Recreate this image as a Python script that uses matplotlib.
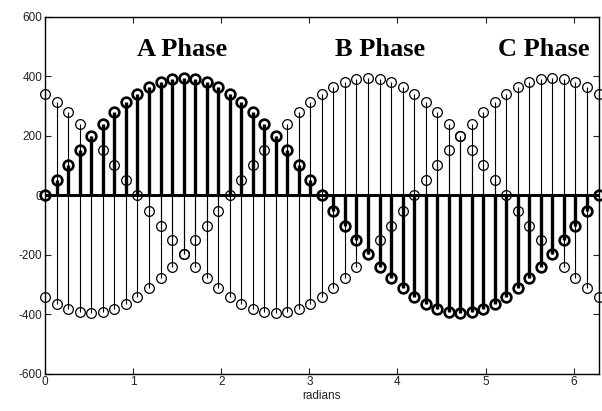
import numpy as np
import matplotlib
matplotlib.use("Agg")
from matplotlib import pyplot as plt

plt.rcParams['axes.unicode_minus'] = False

# sample angles (radians), 49 samples over one period
radians = [0.000, 0.131, 0.262, 0.393, 0.524, 0.654, 0.785, 0.916, 1.047, 1.178,
           1.309, 1.440, 1.571, 1.702, 1.833, 1.963, 2.094, 2.225, 2.356, 2.487,
           2.618, 2.749, 2.880, 3.011, 3.142, 3.272, 3.403, 3.534, 3.665, 3.796,
           3.927, 4.058, 4.189, 4.320, 4.451, 4.581, 4.712, 4.843, 4.974, 5.105,
           5.236, 5.367, 5.498, 5.629, 5.760, 5.890, 6.021, 6.152, 6.283]

phase_a = [0, 52, 102, 151, 198, 240, 279, 313, 342, 365, 382, 392, 395, 392,
           382, 365, 342, 313, 279, 240, 198, 151, 102, 52, 0, -52, -102, -151,
           -198, -240, -279, -313, -342, -365, -382, -392, -395, -392, -382,
           -365, -342, -313, -279, -240, -198, -151, -102, -52, 0]

phase_b = [-342, -365, -382, -392, -395, -392, -382, -365, -342, -313, -279,
           -240, -198, -151, -102, -52, 0, 52, 102, 151, 198, 240, 279, 313,
           342, 365, 382, 392, 395, 392, 382, 365, 342, 313, 279, 240, 198,
           151, 102, 52, 0, -52, -102, -151, -198, -240, -279, -313, -342]

phase_c = [342, 313, 279, 240, 198, 151, 102, 52, 0, -52, -102, -151, -198,
           -240, -279, -313, -342, -365, -382, -392, -395, -392, -382, -365,
           -342, -313, -279, -240, -198, -151, -102, -52, 0, 52, 102, 151, 198,
           240, 279, 313, 342, 365, 382, 392, 395, 392, 382, 365, 342]

labels = ["A Phase", "B Phase", "C Phase"]
label_x = [1.55, 3.80, 5.66]
label_y = 468

fig = plt.figure(figsize=(6.02, 4.11), dpi=100)
ax = fig.add_axes([0.0752, 0.0908, 0.919, 0.868])


def draw_stems(y, lw, mew):
    markerline, stemlines, baseline = ax.stem(radians, y, linefmt='k-',
                                              markerfmt='ko', basefmt='k-')
    stemlines.set_linewidth(lw)
    plt.setp(markerline, markerfacecolor='none', markeredgecolor='k',
             markersize=7, markeredgewidth=mew, clip_on=False)
    baseline.set_linewidth(1.8)
    return markerline


draw_stems(phase_b, 0.8, 0.9)
draw_stems(phase_c, 0.8, 0.9)
draw_stems(phase_a, 2.4, 1.9)

for txt, lx in zip(labels, label_x):
    ax.text(lx, label_y, txt, ha='center', va='baseline',
            family='Liberation Serif', weight='bold', fontsize=19)

ax.set_xlim(0, radians[-1])
ax.set_ylim(-600, 600)
ax.set_xticks(range(0, 7))
ax.set_yticks(range(-600, 601, 200))
ax.tick_params(direction='in', length=4, width=0.8, top=True, right=True,
               labelsize=8.5, colors='#222222', pad=2)
for lab in ax.get_xticklabels() + ax.get_yticklabels():
    lab.set_family('Liberation Sans')
for sp in ax.spines.values():
    sp.set_linewidth(1.0)
ax.set_xlabel('radians', family='Liberation Sans', fontsize=8.5,
              color='#222222', labelpad=1)

fig.savefig('out.png', dpi=100)
